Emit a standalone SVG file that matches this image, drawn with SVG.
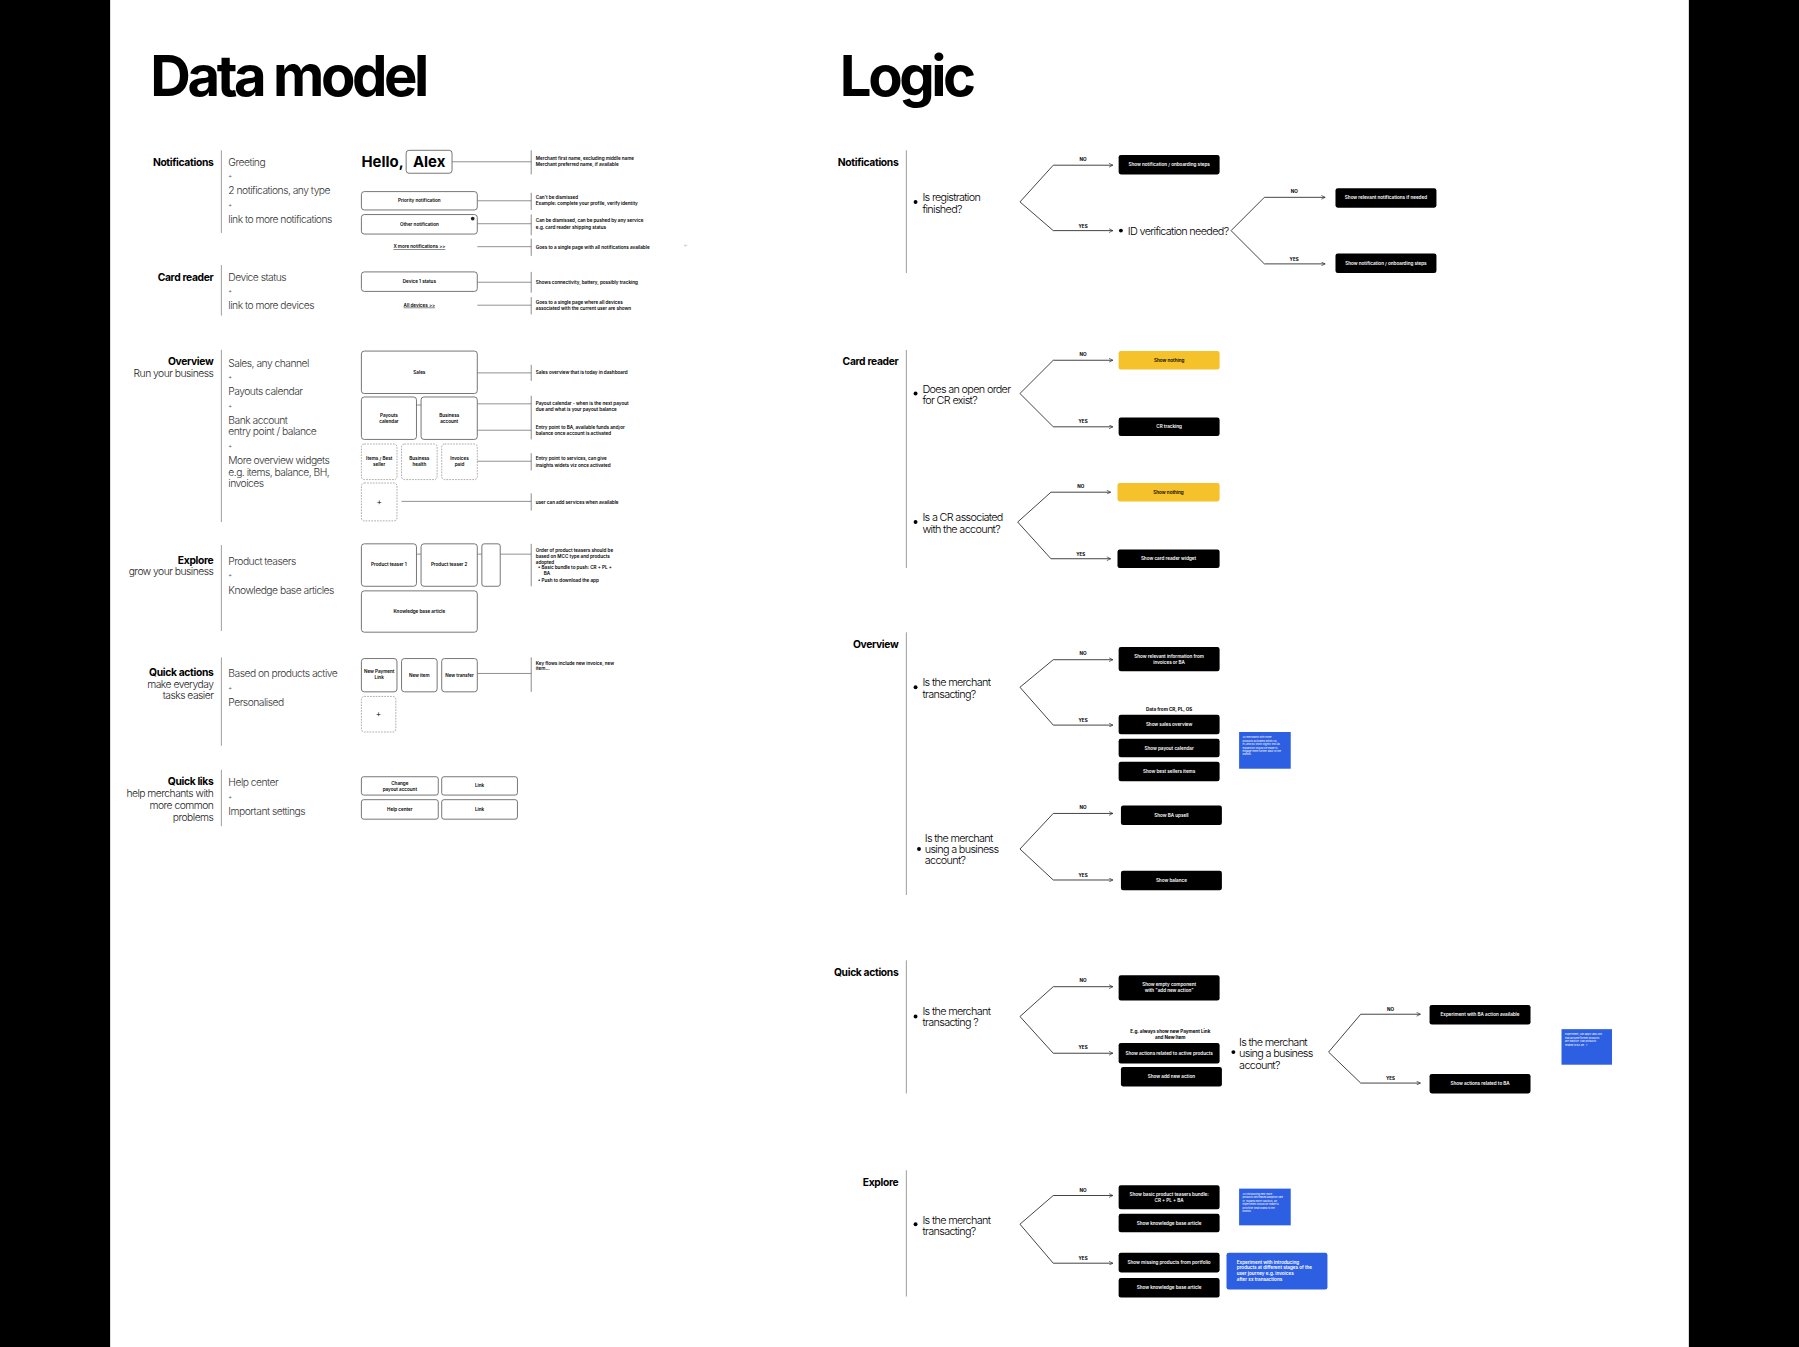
<svg xmlns="http://www.w3.org/2000/svg" width="1799" height="1347" viewBox="0 0 1799 1347">
<defs>
<style>
text{font-family:Inter,"Liberation Sans",sans-serif;dominant-baseline:central;fill:#000}
.title{font-size:49px;font-weight:700;letter-spacing:-3px}
.sec{font-size:9px;font-weight:700;text-anchor:end;letter-spacing:-0.3px}
.sub{font-size:9px;font-weight:300;text-anchor:end;fill:#222;letter-spacing:-0.45px}
.item{font-size:9px;font-weight:300;fill:#333;letter-spacing:-0.45px}
.plus{font-size:5px;fill:#555}
.hello{font-size:13px;font-weight:700}
.wf{fill:#fff;stroke:#555;stroke-width:0.7}
.wfd{fill:#fff;stroke:#888;stroke-width:0.6;stroke-dasharray:1.5 1}
.wt{font-size:4px;font-weight:600;text-anchor:middle}
.wl{font-size:4px;font-weight:600;text-anchor:middle;text-decoration:underline}
.bigplus{font-size:8px;font-weight:300;text-anchor:middle}
.note{font-size:4px;font-weight:600}
.conn{stroke:#777;stroke-width:0.7;fill:none}
.div{stroke:#555;stroke-width:0.6}
.vsep{stroke:#aaa;stroke-width:1}
.q{font-size:9.5px;font-weight:300;letter-spacing:-0.6px}
.br{stroke:#333;stroke-width:0.8;fill:none;marker-end:url(#arr)}
.yn{font-size:4px;font-weight:700;text-anchor:middle}
.bb{fill:#000}
.bt{font-size:4px;font-weight:600;fill:#fff;text-anchor:middle}
.yb{fill:#F5C22B}
.yt{font-size:4px;font-weight:600;text-anchor:middle}
.blue{fill:#2D5FE3}
.blt{font-size:2.2px;fill:#fff;font-weight:400}
.bln{font-size:4px;fill:#fff;font-weight:600}
.lbl{font-size:4px;font-weight:700;text-anchor:middle}
</style>
<marker id="arr" viewBox="0 0 6 6" refX="5.5" refY="3" markerWidth="4" markerHeight="4" orient="auto" markerUnits="userSpaceOnUse"><path d="M0.5,0.5 L5.5,3 L0.5,5.5" fill="none" stroke="#333" stroke-width="0.9"/></marker>
</defs>
<rect x="0" y="0" width="1799" height="1347" fill="#000"/>
<g transform="scale(1.147321)">
<rect x="96" y="0" width="1376" height="1175" fill="#fff"/>
<text class="title" x="131" y="66">Data model</text>
<text class="title" x="732" y="66">Logic</text>

<!-- DATA MODEL -->
<g id="dm-notifications">
<text class="sec" x="186" y="141">Notifications</text>
<line class="vsep" x1="193" y1="131" x2="193" y2="203"/>
<text class="item" x="199" y="141">Greeting</text>
<text class="plus" x="199" y="153">+</text>
<text class="item" x="199" y="166">2 notifications, any type</text>
<text class="plus" x="199" y="178">+</text>
<text class="item" x="199" y="191">link to more notifications</text>
<text class="hello" x="315" y="141">Hello,</text>
<rect class="wf" x="354" y="131" width="40" height="20" rx="2.5"/>
<text class="hello" x="374" y="141" text-anchor="middle">Alex</text>
<rect class="wf" x="315" y="167" width="101" height="16" rx="2.5"/>
<text class="wt" x="365.5" y="175">Priority notification</text>
<rect class="wf" x="315" y="187" width="101" height="17" rx="2.5"/>
<text class="wt" x="365.5" y="195.5">Other notification</text>
<circle cx="412" cy="190.5" r="1.6" fill="#222"/>
<text class="wl" x="365.5" y="215">X more notifications &gt;&gt;</text>
<text class="note" x="467" y="138">Merchant first name, excluding middle name</text>
<text class="note" x="467" y="143">Merchant preferred name, if available</text>
<text class="note" x="467" y="172">Can't be dismissed</text>
<text class="note" x="467" y="177">Example: complete your profile, verify identity</text>
<text class="note" x="467" y="192">Can be dismissed, can be pushed by any service</text>
<text class="note" x="467" y="198">e.g. card reader shipping status</text>
<text class="note" x="467" y="216">Goes to a single page with all notifications available</text>
<text x="596" y="214" style="font-size:4px;fill:#999">←</text>
</g>

<g id="dm-card-reader">
<text class="sec" x="186" y="241">Card reader</text>
<line class="vsep" x1="193" y1="231" x2="193" y2="275"/>
<text class="item" x="199" y="241">Device status</text>
<text class="plus" x="199" y="253">+</text>
<text class="item" x="199" y="266">link to more devices</text>
<rect class="wf" x="315" y="237" width="101" height="17" rx="2.5"/>
<text class="wt" x="365.5" y="245.5">Device 1 status</text>
<text class="wl" x="365.5" y="266">All devices &gt;&gt;</text>
<text class="note" x="467" y="246">Shows connectivity, battery, possibly  tracking</text>
<text class="note" x="467" y="264">Goes to a single page where all devices</text>
<text class="note" x="467" y="269">associated with the current user are shown</text>
</g>

<g id="dm-overview">
<text class="sec" x="186" y="315">Overview</text>
<text class="sub" x="186" y="325">Run your business</text>
<line class="vsep" x1="193" y1="305" x2="193" y2="455"/>
<text class="item" x="199" y="316">Sales, any channel</text>
<text class="plus" x="199" y="328">+</text>
<text class="item" x="199" y="341">Payouts calendar</text>
<text class="plus" x="199" y="353">+</text>
<text class="item" x="199" y="366">Bank account</text>
<text class="item" x="199" y="376">entry point / balance</text>
<text class="plus" x="199" y="388">+</text>
<text class="item" x="199" y="401">More overview widgets</text>
<text class="item" x="199" y="411">e.g. items, balance, BH,</text>
<text class="item" x="199" y="421">invoices</text>
<rect class="wf" x="315" y="306" width="101" height="37" rx="2.5"/>
<text class="wt" x="365.5" y="324.5">Sales</text>
<rect class="wf" x="315" y="346" width="48" height="37" rx="2.5"/>
<text class="wt" x="339" y="362">Payouts</text>
<text class="wt" x="339" y="367">calendar</text>
<rect class="wf" x="367" y="346" width="49" height="37" rx="2.5"/>
<text class="wt" x="391.5" y="362">Business</text>
<text class="wt" x="391.5" y="367">account</text>
<rect class="wfd" x="315" y="387" width="31" height="31" rx="2.5"/>
<text class="wt" x="330.5" y="400">Items / Best</text>
<text class="wt" x="330.5" y="405">seller</text>
<rect class="wfd" x="350" y="387" width="31" height="31" rx="2.5"/>
<text class="wt" x="365.5" y="400">Business</text>
<text class="wt" x="365.5" y="405">health</text>
<rect class="wfd" x="385" y="387" width="31" height="31" rx="2.5"/>
<text class="wt" x="400.5" y="400">Invoices</text>
<text class="wt" x="400.5" y="405">paid</text>
<rect class="wfd" x="315" y="421" width="31" height="33" rx="2.5"/>
<text class="bigplus" x="330.5" y="437">+</text>
<text class="note" x="467" y="325">Sales overview that is today in dashboard</text>
<text class="note" x="467" y="352">Payout calendar - when is the next payout</text>
<text class="note" x="467" y="357">due and what is your payout balance</text>
<text class="note" x="467" y="373">Entry point to BA, available funds and/or</text>
<text class="note" x="467" y="378">balance once account is activated</text>
<text class="note" x="467" y="400">Entry point to services, can give</text>
<text class="note" x="467" y="406">insights widets viz once activated</text>
<text class="note" x="467" y="438">user can add services when available</text>
</g>

<g id="dm-explore">
<text class="sec" x="186" y="488">Explore</text>
<text class="sub" x="186" y="498">grow your business</text>
<line class="vsep" x1="193" y1="475" x2="193" y2="550"/>
<text class="item" x="199" y="489">Product teasers</text>
<text class="plus" x="199" y="501">+</text>
<text class="item" x="199" y="514">Knowledge base articles</text>
<rect class="wf" x="315" y="474" width="48" height="37" rx="2.5"/>
<text class="wt" x="339" y="492">Product teaser 1</text>
<rect class="wf" x="367" y="474" width="49" height="37" rx="2.5"/>
<text class="wt" x="391.5" y="492">Product teaser 2</text>
<rect class="wf" x="420" y="474" width="16" height="37" rx="2"/>
<rect class="wf" x="315" y="515" width="101" height="36" rx="2.5"/>
<text class="wt" x="365.5" y="533">Knowledge base article</text>
<text class="note" x="467" y="480">Order of product teasers should be</text>
<text class="note" x="467" y="485">based on MCC type and products</text>
<text class="note" x="467" y="490">adopted</text>
<text class="note" x="469" y="495">•  Basic bundle to push: CR + PL +</text>
<text class="note" x="474" y="500">BA</text>
<text class="note" x="469" y="506">•  Push to download the app</text>
</g>

<g id="dm-quick-actions">
<text class="sec" x="186" y="586">Quick actions</text>
<text class="sub" x="186" y="596">make everyday</text>
<text class="sub" x="186" y="606">tasks easier</text>
<line class="vsep" x1="193" y1="573" x2="193" y2="650"/>
<text class="item" x="199" y="587">Based on products active</text>
<text class="plus" x="199" y="599">+</text>
<text class="item" x="199" y="612">Personalised</text>
<rect class="wf" x="315" y="574" width="31" height="29" rx="2.5"/>
<text class="wt" x="330.5" y="585.5">New Payment</text>
<text class="wt" x="330.5" y="590.5">Link</text>
<rect class="wf" x="350" y="574" width="31" height="29" rx="2.5"/>
<text class="wt" x="365.5" y="588.5">New item</text>
<rect class="wf" x="385" y="574" width="31" height="29" rx="2.5"/>
<text class="wt" x="400.5" y="588.5">New transfer</text>
<rect class="wfd" x="315" y="607" width="30" height="31" rx="2.5"/>
<text class="bigplus" x="330" y="622">+</text>
<text class="note" x="467" y="578">Key flows include new invoice, new</text>
<text class="note" x="467" y="583">item...</text>
</g>

<g id="dm-quick-links">
<text class="sec" x="186" y="681">Quick liks</text>
<text class="sub" x="186" y="691">help merchants with</text>
<text class="sub" x="186" y="702">more common</text>
<text class="sub" x="186" y="712">problems</text>
<line class="vsep" x1="193" y1="671" x2="193" y2="720"/>
<text class="item" x="199" y="682">Help center</text>
<text class="plus" x="199" y="694">+</text>
<text class="item" x="199" y="707">Important settings</text>
<rect class="wf" x="315" y="677" width="67" height="16" rx="2"/>
<text class="wt" x="348.5" y="683">Change</text>
<text class="wt" x="348.5" y="688">payout account</text>
<rect class="wf" x="385" y="677" width="66" height="16" rx="2"/>
<text class="wt" x="418" y="685">Link</text>
<rect class="wf" x="315" y="697" width="67" height="17" rx="2"/>
<text class="wt" x="348.5" y="705.5">Help center</text>
<rect class="wf" x="385" y="697" width="66" height="17" rx="2"/>
<text class="wt" x="418" y="705.5">Link</text>
</g>

<g id="dm-connectors">
<line class="conn" x1="394" y1="141" x2="463" y2="141"/>
<line class="div" x1="463" y1="131" x2="463" y2="152"/>
<line class="conn" x1="416" y1="175" x2="463" y2="175"/>
<line class="div" x1="463" y1="168" x2="463" y2="183"/>
<line class="conn" x1="416" y1="195" x2="463" y2="195"/>
<line class="div" x1="463" y1="187" x2="463" y2="205"/>
<line class="conn" x1="416" y1="215" x2="463" y2="215"/>
<line class="div" x1="463" y1="208" x2="463" y2="223"/>
<line class="conn" x1="416" y1="246" x2="463" y2="246"/>
<line class="div" x1="463" y1="237" x2="463" y2="255"/>
<line class="conn" x1="416" y1="266" x2="463" y2="266"/>
<line class="div" x1="463" y1="259" x2="463" y2="274"/>
<line class="conn" x1="416" y1="325" x2="463" y2="325"/>
<line class="div" x1="463" y1="318" x2="463" y2="332"/>
<line class="conn" x1="363" y1="353" x2="367" y2="353"/>
<line class="conn" x1="416" y1="352" x2="463" y2="352"/>
<line class="conn" x1="416" y1="375" x2="463" y2="375"/>
<line class="div" x1="463" y1="345" x2="463" y2="383"/>
<line class="conn" x1="416" y1="402" x2="463" y2="402"/>
<line class="div" x1="463" y1="395" x2="463" y2="410"/>
<line class="conn" x1="350" y1="437" x2="463" y2="437"/>
<line class="div" x1="463" y1="430" x2="463" y2="445"/>
<line class="conn" x1="363" y1="483" x2="367" y2="483"/>
<line class="conn" x1="416" y1="483" x2="420" y2="483"/>
<line class="conn" x1="436" y1="483" x2="463" y2="483"/>
<line class="div" x1="463" y1="474" x2="463" y2="511"/>
<line class="conn" x1="416" y1="587" x2="463" y2="587"/>
<line class="div" x1="463" y1="573" x2="463" y2="603"/>
</g>

<!-- LOGIC -->
<g id="lg-notifications">
<text class="sec" x="783" y="141">Notifications</text>
<line class="vsep" x1="790" y1="131" x2="790" y2="238"/>
<circle cx="798" cy="176" r="1.7"/>
<text class="q" x="804" y="172">Is registration</text>
<text class="q" x="804" y="182">finished?</text>
<rect class="bb" x="975" y="135" width="88" height="17" rx="2"/>
<text class="bt" x="1019" y="143.5">Show notification / onboarding steps</text>
<circle cx="977" cy="201" r="1.7"/>
<text class="q" x="983" y="201">ID verification needed?</text>
<rect class="bb" x="1164" y="164" width="88" height="17" rx="2"/>
<text class="bt" x="1208" y="172.5">Show relevant notifications if needed</text>
<rect class="bb" x="1164" y="221" width="88" height="17" rx="2"/>
<text class="bt" x="1208" y="229.5">Show notification / onboarding steps</text>
</g>

<g id="lg-card-reader">
<text class="sec" x="783" y="315">Card reader</text>
<line class="vsep" x1="790" y1="305" x2="790" y2="495"/>
<circle cx="798" cy="343" r="1.7"/>
<text class="q" x="804" y="339">Does an open order</text>
<text class="q" x="804" y="349">for CR exist?</text>
<rect class="yb" x="975" y="306" width="88" height="16" rx="2"/>
<text class="yt" x="1019" y="314">Show nothing</text>
<rect class="bb" x="975" y="364" width="88" height="16" rx="2"/>
<text class="bt" x="1019" y="372">CR tracking</text>
<circle cx="798" cy="455" r="1.7"/>
<text class="q" x="804" y="451">Is a CR associated</text>
<text class="q" x="804" y="461">with the account?</text>
<rect class="yb" x="974" y="421" width="89" height="16" rx="2"/>
<text class="yt" x="1018.5" y="429">Show nothing</text>
<rect class="bb" x="974" y="479" width="89" height="16" rx="2"/>
<text class="bt" x="1018.5" y="487">Show card reader widget</text>
</g>

<g id="lg-overview">
<text class="sec" x="783" y="561">Overview</text>
<line class="vsep" x1="790" y1="551" x2="790" y2="780"/>
<circle cx="798" cy="599" r="1.7"/>
<text class="q" x="804" y="594">Is the merchant</text>
<text class="q" x="804" y="605">transacting?</text>
<rect class="bb" x="975" y="564" width="88" height="21" rx="2"/>
<text class="bt" x="1019" y="572">Show relevant information from</text>
<text class="bt" x="1019" y="577.5">invoices or BA</text>
<text class="lbl" x="1019" y="618">Data from CR, PL, OS</text>
<rect class="bb" x="975" y="623" width="88" height="17" rx="2"/>
<text class="bt" x="1019" y="631.5">Show sales overview</text>
<rect class="bb" x="975" y="644" width="88" height="16" rx="2"/>
<text class="bt" x="1019" y="652">Show payout calendar</text>
<rect class="bb" x="975" y="664" width="88" height="17" rx="2"/>
<text class="bt" x="1019" y="672.5">Show best sellers items</text>
<rect class="blue" x="1080" y="638" width="45" height="32"/>
<text class="blt" x="1083" y="643">As merchants with three</text>
<text class="blt" x="1083" y="646">products activated within CR,</text>
<text class="blt" x="1083" y="649">PL and BA show slightly less as</text>
<text class="blt" x="1083" y="652">expansion should be made to</text>
<text class="blt" x="1083" y="655">engage them further back to the</text>
<text class="blt" x="1083" y="658">brands.</text>
<circle cx="801" cy="740" r="1.7"/>
<text class="q" x="806" y="730">Is the merchant</text>
<text class="q" x="806" y="740">using a business</text>
<text class="q" x="806" y="750">account?</text>
<rect class="bb" x="977" y="702" width="88" height="17" rx="2"/>
<text class="bt" x="1021" y="710.5">Show BA upsell</text>
<rect class="bb" x="977" y="759" width="88" height="17" rx="2"/>
<text class="bt" x="1021" y="767.5">Show balance</text>
</g>

<g id="lg-quick-actions">
<text class="sec" x="783" y="847">Quick actions</text>
<line class="vsep" x1="790" y1="837" x2="790" y2="953"/>
<circle cx="798" cy="886" r="1.7"/>
<text class="q" x="804" y="881">Is the merchant</text>
<text class="q" x="804" y="891">transacting ?</text>
<rect class="bb" x="975" y="850" width="88" height="22" rx="2"/>
<text class="bt" x="1019" y="858">Show  empty component</text>
<text class="bt" x="1019" y="863.5">with "add new action"</text>
<text class="lbl" x="1020" y="899">E.g. always show new Payment Link</text>
<text class="lbl" x="1020" y="904">and New Item</text>
<rect class="bb" x="975" y="909" width="88" height="18" rx="2"/>
<text class="bt" x="1019" y="918">Show actions related to active products</text>
<rect class="bb" x="977" y="930" width="88" height="17" rx="2"/>
<text class="bt" x="1021" y="938.5">Show add new action</text>
<circle cx="1075" cy="917" r="1.7"/>
<text class="q" x="1080" y="908">Is the merchant</text>
<text class="q" x="1080" y="918">using a business</text>
<text class="q" x="1080" y="928">account?</text>
<rect class="bb" x="1246" y="876" width="88" height="17" rx="2"/>
<text class="bt" x="1290" y="884.5">Experiment with BA action available</text>
<rect class="bb" x="1246" y="936" width="88" height="17" rx="2"/>
<text class="bt" x="1290" y="944.5">Show actions related to BA</text>
<rect class="blue" x="1361" y="897" width="44" height="31"/>
<text class="blt" x="1364" y="902">Experiment, can apply add-ons</text>
<text class="blt" x="1364" y="905">that assume former products</text>
<text class="blt" x="1364" y="908">are inactive. Can products</text>
<text class="blt" x="1364" y="911">related to BA be...?</text>
</g>

<g id="lg-explore">
<text class="sec" x="783" y="1030">Explore</text>
<line class="vsep" x1="790" y1="1020" x2="790" y2="1130"/>
<circle cx="798" cy="1067" r="1.7"/>
<text class="q" x="804" y="1063">Is the merchant</text>
<text class="q" x="804" y="1073">transacting?</text>
<rect class="bb" x="975" y="1033" width="88" height="21" rx="2"/>
<text class="bt" x="1019" y="1041">Show basic product teasers bundle:</text>
<text class="bt" x="1019" y="1046.5">CR + PL + BA</text>
<rect class="bb" x="975" y="1058" width="88" height="16" rx="2"/>
<text class="bt" x="1019" y="1066">Show knowledge base article</text>
<rect class="bb" x="975" y="1092" width="88" height="17" rx="2"/>
<text class="bt" x="1019" y="1100.5">Show missing products from portfolio</text>
<rect class="bb" x="975" y="1114" width="88" height="17" rx="2"/>
<text class="bt" x="1019" y="1122.5">Show knowledge base article</text>
<rect class="blue" x="1080" y="1036" width="45" height="32"/>
<text class="blt" x="1083" y="1041">As introducing new more</text>
<text class="blt" x="1083" y="1044">products decreased adoption rate</text>
<text class="blt" x="1083" y="1047">IE, expand more cautious, an</text>
<text class="blt" x="1083" y="1050">experiment should be made to</text>
<text class="blt" x="1083" y="1053">prioritise what brand to the</text>
<text class="blt" x="1083" y="1056">brands</text>
<rect class="blue" x="1069" y="1092" width="88" height="32" rx="2"/>
<text class="bln" x="1078" y="1100">Experiment with introducing</text>
<text class="bln" x="1078" y="1105">products at different stages of the</text>
<text class="bln" x="1078" y="1110">user journey e.g. invoices</text>
<text class="bln" x="1078" y="1115.5">after xx transactions</text>
</g>

<g id="lg-connectors">
<path class="br" d="M889,176 L918,144 L970,144"/>
<path class="br" d="M889,176 L918,201 L970,201"/>
<text class="yn" x="944" y="139">NO</text>
<text class="yn" x="944" y="197">YES</text>
<path class="br" d="M1073,201 L1102,172 L1155,172"/>
<path class="br" d="M1073,201 L1102,230 L1155,230"/>
<text class="yn" x="1128" y="167">NO</text>
<text class="yn" x="1128" y="226">YES</text>
<path class="br" d="M889,343 L918,314 L970,314"/>
<path class="br" d="M889,343 L918,372 L970,372"/>
<text class="yn" x="944" y="309">NO</text>
<text class="yn" x="944" y="367">YES</text>
<path class="br" d="M887,455 L916,429 L968,429"/>
<path class="br" d="M887,455 L916,487 L968,487"/>
<text class="yn" x="942" y="424">NO</text>
<text class="yn" x="942" y="483">YES</text>
<path class="br" d="M889,599 L918,575 L970,575"/>
<path class="br" d="M889,599 L918,632 L970,632"/>
<text class="yn" x="944" y="570">NO</text>
<text class="yn" x="944" y="628">YES</text>
<path class="br" d="M889,740 L918,709 L970,709"/>
<path class="br" d="M889,740 L918,767 L970,767"/>
<text class="yn" x="944" y="704">NO</text>
<text class="yn" x="944" y="763">YES</text>
<path class="br" d="M889,886 L918,860 L970,860"/>
<path class="br" d="M889,886 L918,918 L970,918"/>
<text class="yn" x="944" y="855">NO</text>
<text class="yn" x="944" y="913">YES</text>
<path class="br" d="M1158,917 L1186,884 L1238,884"/>
<path class="br" d="M1158,917 L1186,944 L1238,944"/>
<text class="yn" x="1212" y="880">NO</text>
<text class="yn" x="1212" y="940">YES</text>
<path class="br" d="M889,1067 L918,1042 L970,1042"/>
<path class="br" d="M889,1067 L918,1101 L970,1101"/>
<text class="yn" x="944" y="1038">NO</text>
<text class="yn" x="944" y="1097">YES</text>
</g>
</g>
</svg>
